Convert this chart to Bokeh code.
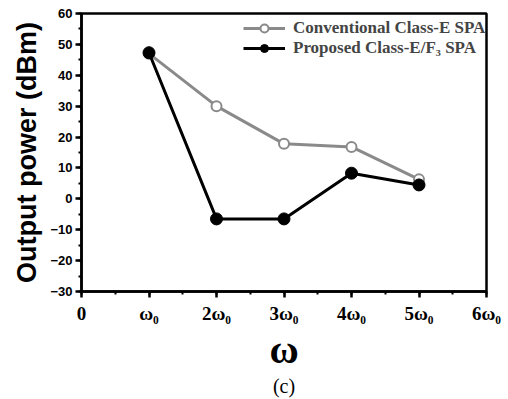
from bokeh.plotting import figure
from bokeh.models import SingleIntervalTicker, FixedTicker, Legend, LegendItem, Range1d, LinearAxis
from bokeh.embed import file_html
from bokeh.resources import INLINE

harmonics = [1, 2, 3, 4, 5]
conventional = [47.0, 30.0, 17.8, 16.8, 6.3]
proposed = [47.3, -6.5, -6.5, 8.3, 4.5]
x_tick_labels = {0: "0", 1: "ω₀", 2: "2ω₀", 3: "3ω₀", 4: "4ω₀", 5: "5ω₀", 6: "6ω₀"}
series_names = ["Conventional Class-E SPA", "Proposed Class-E/F₃ SPA"]
caption = "(c)"

SERIF = "Liberation Serif"
SANS = "Liberation Sans"

p = figure(width=508, height=399, output_backend="svg", toolbar_location=None,
           x_range=Range1d(0, 6), y_range=Range1d(-30, 60),
           min_border_left=81, min_border_right=22, min_border_top=13, min_border_bottom=107)
p.background_fill_color = "white"
p.border_fill_color = "white"
p.grid.visible = False
p.outline_line_color = "black"
p.outline_line_width = 2.5

p.xaxis.ticker = SingleIntervalTicker(interval=1, num_minor_ticks=2)
p.yaxis.ticker = SingleIntervalTicker(interval=10, num_minor_ticks=2)
p.xaxis.major_label_overrides = x_tick_labels
for ax in (p.xaxis, p.yaxis):
    ax.axis_line_width = 2.5
    ax.axis_line_color = "black"
    ax.major_tick_in = 0
    ax.major_tick_out = 6
    ax.minor_tick_in = 0
    ax.minor_tick_out = 3
    ax.major_tick_line_width = 2.5
    ax.minor_tick_line_width = 2
    ax.major_label_text_color = "black"
    ax.axis_label_text_color = "black"
    ax.axis_label_text_font_style = "bold"

p.xaxis.major_label_text_font = SERIF
p.xaxis.major_label_text_font_style = "bold"
p.xaxis.major_label_text_font_size = "19px"
p.xaxis.major_label_standoff = 5
p.xaxis.axis_label = "ω"
p.xaxis.axis_label_text_font = SERIF
p.xaxis.axis_label_text_font_size = "40px"
p.xaxis.axis_label_standoff = 0

p.yaxis.major_label_text_font = SANS
p.yaxis.major_label_text_font_style = "bold"
p.yaxis.major_label_text_font_size = "13px"
p.yaxis.major_label_standoff = 3
p.yaxis.axis_label = "Output power (dBm)"
p.yaxis.axis_label_text_font = SANS
p.yaxis.axis_label_text_font_size = "27px"
p.yaxis.axis_label_standoff = 5

# caption below the x axis, drawn as the label of a bare extra axis
cap_axis = LinearAxis(ticker=FixedTicker(ticks=[]), axis_label=caption,
                      axis_line_color=None, major_tick_line_color=None,
                      minor_tick_line_color=None, major_tick_out=0, minor_tick_out=0,
                      major_label_standoff=0, major_label_text_font_size="0px",
                      axis_label_standoff=0, axis_label_text_font=SERIF,
                      axis_label_text_font_size="20px", axis_label_text_font_style="normal",
                      axis_label_text_color="black")
p.add_layout(cap_axis, "below")

l1 = p.line(harmonics, conventional, line_color="#8a8a8a", line_width=3)
s1 = p.scatter(harmonics, conventional, size=10, marker="circle", fill_color="white",
               line_color="#8a8a8a", line_width=2)
l2 = p.line(harmonics, proposed, line_color="black", line_width=3)
s2 = p.scatter(harmonics, proposed, size=12, marker="circle", fill_color="black",
               line_color="black")

legend = Legend(items=[LegendItem(label=series_names[0], renderers=[l1, s1]),
                       LegendItem(label=series_names[1], renderers=[l2, s2])],
                location=(162, 233))
legend.border_line_color = None
legend.background_fill_alpha = 0
legend.label_text_font = SERIF
legend.label_text_font_style = "bold"
legend.label_text_font_size = "17px"
legend.glyph_width = 42
legend.glyph_height = 20
legend.label_height = 20
legend.label_standoff = 8
legend.spacing = 0
legend.padding = 0
legend.margin = 0
p.add_layout(legend)

open("out.html", "w").write(file_html(p, INLINE))
